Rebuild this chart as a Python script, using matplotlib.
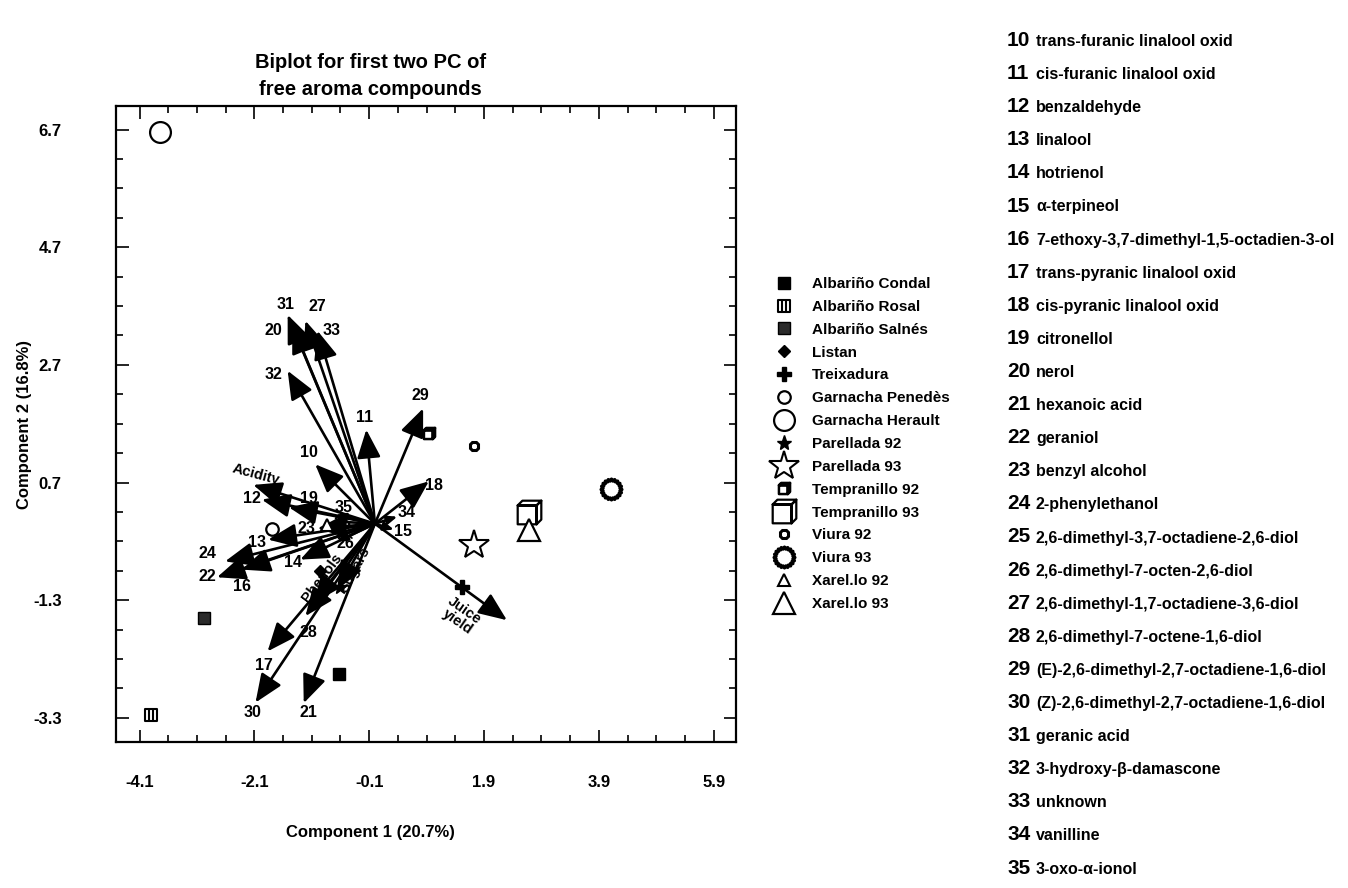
import numpy as np
import matplotlib
matplotlib.use('agg')
import matplotlib.pyplot as plt
from matplotlib.path import Path
from matplotlib.ticker import FixedLocator, MultipleLocator

# scores (sample points)
cultivars = ['Albariño Condal', 'Albariño Rosal', 'Albariño Salnés', 'Listan', 'Treixadura',
             'Garnacha Penedès', 'Garnacha Herault', 'Parellada 92', 'Parellada 93',
             'Tempranillo 92', 'Tempranillo 93', 'Viura 92', 'Viura 93', 'Xarel.lo 92', 'Xarel.lo 93']
score_x = [-0.63, -3.90, -2.98, -0.95, 1.52, -1.79, -3.75, -0.61, 1.72, 0.94, 2.68, 1.72, 4.11, -0.83, 2.68]
score_y = [-2.55, -3.25, -1.60, -0.80, -1.07, -0.09, 6.65, -1.07, -0.36, 1.54, 0.20, 1.32, 0.59, -0.03, -0.10]

# loadings (arrows from origin)
loading_labels = ['10', '11', '12', '13', '14', '15', '16', '17', '18', '19', '20', '21', '22', '23',
                  '24', '25', '26', '27', '28', '29', '30', '31', '32', '33', '34', '35',
                  'Acidity', 'Phenols', 'Sugars', 'Juice\nyield']
loading_x = [-1.04, -0.15, -1.97, -1.86, -1.30, 0.33, -2.32, -1.87, 0.94, -1.50, -1.44, -1.24, -2.75, -1.00,
             -2.61, -0.72, -0.66, -1.21, -1.21, 0.84, -2.08, -1.52, -1.52, -1.00, 0.39, -0.69,
             -2.12, -1.07, -0.66, 2.30]
loading_y = [1.01, 1.60, 0.41, -0.27, -0.61, -0.10, -0.78, -2.17, 0.72, 0.28, 3.38, -3.05, -0.91, -0.08,
             -0.64, 0.04, -0.30, 3.45, -1.57, 1.96, -3.04, 3.55, 2.60, 3.28, 0.12, 0.15,
             0.66, -1.35, -1.12, -1.64]

x_ticks = [-4.1, -2.1, -0.1, 1.9, 3.9, 5.9]
y_ticks = [-3.3, -1.3, 0.7, 2.7, 4.7, 6.7]

compound_ids = list(range(10, 36))
compound_names = ['trans-furanic linalool oxid', 'cis-furanic linalool oxid', 'benzaldehyde', 'linalool',
                  'hotrienol', '\u03b1-terpineol', '7-ethoxy-3,7-dimethyl-1,5-octadien-3-ol',
                  'trans-pyranic linalool oxid', 'cis-pyranic linalool oxid', 'citronellol', 'nerol',
                  'hexanoic acid', 'geraniol', 'benzyl alcohol', '2-phenylethanol',
                  '2,6-dimethyl-3,7-octadiene-2,6-diol', '2,6-dimethyl-7-octen-2,6-diol',
                  '2,6-dimethyl-1,7-octadiene-3,6-diol', '2,6-dimethyl-7-octene-1,6-diol',
                  '(E)-2,6-dimethyl-2,7-octadiene-1,6-diol', '(Z)-2,6-dimethyl-2,7-octadiene-1,6-diol',
                  'geranic acid', '3-hydroxy-\u03b2-damascone', 'unknown', 'vanilline', '3-oxo-\u03b1-ionol']

plt.rcParams['font.family'] = ['Liberation Sans', 'DejaVu Sans']
plt.rcParams['font.weight'] = 'bold'

M, L, C = Path.MOVETO, Path.LINETO, Path.CLOSEPOLY


def cube_marker():
    v = [(-1, -1), (0.6, -1), (0.6, 0.6), (-1, 0.6), (-1, -1),
         (-1, 0.6), (-0.6, 1), (1, 1), (0.6, 0.6), (-1, 0.6),
         (0.6, -1), (1, -0.6), (1, 1), (0.6, 0.6), (0.6, -1)]
    return Path(v, [M, L, L, L, C] * 3)


def striped_square():
    v = [(-1, -1), (1, -1), (1, 1), (-1, 1), (-1, -1),
         (-0.35, -1), (-0.35, 1), (0.35, -1), (0.35, 1)]
    return Path(v, [M, L, L, L, C, M, L, M, L])


def sun_marker():
    ang = np.linspace(0, 2 * np.pi, 40, endpoint=False)
    r = np.where(np.arange(40) % 2 == 0, 1.0, 0.82)
    v = np.column_stack([r * np.cos(ang), r * np.sin(ang)])
    v = np.vstack([v, v[:1]])
    return Path(v, [M] + [L] * 39 + [C])


# marker style per cultivar
styles = [
    dict(marker='s', ms=9, mfc='black', mew=1),
    dict(marker=striped_square(), ms=9, mfc='white', mew=1.5),
    dict(marker='s', ms=9, mfc='#2a2a2a', mew=1),
    dict(marker='D', ms=6.5, mfc='black', mew=1),
    dict(marker='P', ms=9.5, mfc='black', mew=1),
    dict(marker='o', ms=9, mfc='white', mew=1.6),
    dict(marker='o', ms=15, mfc='white', mew=1.6),
    dict(marker='*', ms=11, mfc='black', mew=1),
    dict(marker='*', ms=22, mfc='white', mew=1.5),
    dict(marker=cube_marker(), ms=8, mfc='white', mew=1.8),
    dict(marker=cube_marker(), ms=17, mfc='white', mew=1.6),
    dict(marker='8', ms=7, mfc='white', mew=2.2),
    dict(marker=sun_marker(), ms=15, mfc='white', mew=2.4),
    dict(marker='^', ms=9, mfc='white', mew=1.5),
    dict(marker='^', ms=16, mfc='white', mew=1.6),
]

# label offsets (pixels) / rotations for arrow labels
label_off = {'10': (-6, 12), '11': (-2, 12), '12': (-10, 1), '13': (-11, -3), '14': (-7, -3),
             '15': (9, -2), '16': (0, -17), '17': (-4, -14), '18': (5, -4), '19': (20, 9),
             '20': (-19, -6), '21': (5, -9), '22': (-10, 1), '23': (-11, 0), '24': (-18, 8),
             '25': (9, -2), '26': (8, -2), '27': (12, 14), '28': (3, -16), '29': (-3, 13),
             '30': (-3, -10), '31': (-2, 10), '32': (-14, -4), '33': (14, 0), '34': (9, 4),
             '35': (8, 7), 'Acidity': (3, 10), 'Phenols': (8, 25), 'Sugars': (18, 20),
             'Juice\nyield': (-46, 4)}
label_rot = {'Acidity': -15, 'Phenols': 53, 'Sugars': 62, 'Juice\nyield': -35}

fig = plt.figure(figsize=(13.48, 8.88), dpi=100)
ax = fig.add_axes([116 / 1348, 1 - 742 / 888, 620 / 1348, 636 / 888])

handles = []
for name, x, y, st in zip(cultivars, score_x, score_y, styles):
    h, = ax.plot([x], [y], ls='none', mec='black', label=name, zorder=3, **st)
    handles.append(h)

for lab, x, y in zip(loading_labels, loading_x, loading_y):
    length = np.hypot(x, y)
    ms = 29 if length > 0.9 else 10
    ax.annotate('', xy=(x, y), xytext=(0, 0),
                arrowprops=dict(arrowstyle='-|>,head_length=0.6,head_width=0.25', color='black',
                                lw=1.9, shrinkA=0, shrinkB=0, mutation_scale=ms), zorder=2)
    dx, dy = label_off[lab]
    fs = 10.5 if lab[0].isalpha() else 11.5
    ax.annotate(lab, xy=(x, y), xytext=(dx, dy), textcoords='offset pixels', ha='center',
                va='center', fontsize=fs, fontweight='bold', rotation=label_rot.get(lab, 0),
                linespacing=0.95, zorder=4)

ax.set_xlim(-4.51, 6.29)
ax.set_ylim(-3.71, 7.1)
ax.xaxis.set_major_locator(FixedLocator(x_ticks))
ax.yaxis.set_major_locator(FixedLocator(y_ticks))
ax.xaxis.set_minor_locator(MultipleLocator(0.5, offset=-0.1))
ax.yaxis.set_minor_locator(MultipleLocator(0.5, offset=0.2))
ax.set_xticklabels([f'{v:.1f}' for v in x_ticks])
ax.set_yticklabels([f'{v:.1f}' for v in y_ticks])
ax.tick_params(which='both', direction='in', top=True, right=True, width=1.2, labelsize=12)
ax.tick_params(which='major', length=9)
ax.tick_params(which='minor', length=5)
ax.tick_params(axis='x', pad=24)
ax.tick_params(axis='y', pad=39)
for sp in ax.spines.values():
    sp.set_linewidth(1.6)

ax.set_xlabel('Component 1 (20.7%)', fontsize=12, fontweight='bold')
ax.xaxis.set_label_coords(0.41, -0.13)
ax.set_ylabel('Component 2 (16.8%)', fontsize=12, fontweight='bold')
ax.yaxis.set_label_coords(-0.135, 0.5)
ax.set_title('Biplot for first two PC of\nfree aroma compounds', fontsize=14.5, fontweight='bold',
             pad=8, x=0.41, linespacing=1.5)

fig.legend(handles=handles, loc='upper left', bbox_to_anchor=(775 / 1348, 1 - 277 / 888),
           frameon=False, handlelength=1.2, handletextpad=1.2, labelspacing=0.58,
           borderpad=0, borderaxespad=0, numpoints=1, prop={'weight': 'bold', 'size': 11})

for i, (cid, cname) in enumerate(zip(compound_ids, compound_names)):
    yy = 1 - (46 + i * 33.1) / 888
    fig.text(1007 / 1348, yy, str(cid), fontsize=15, fontweight='bold', va='baseline', ha='left')
    fig.text(1036 / 1348, yy, cname, fontsize=11.5, fontweight='bold', va='baseline', ha='left')

fig.savefig('out.png', dpi=100)
